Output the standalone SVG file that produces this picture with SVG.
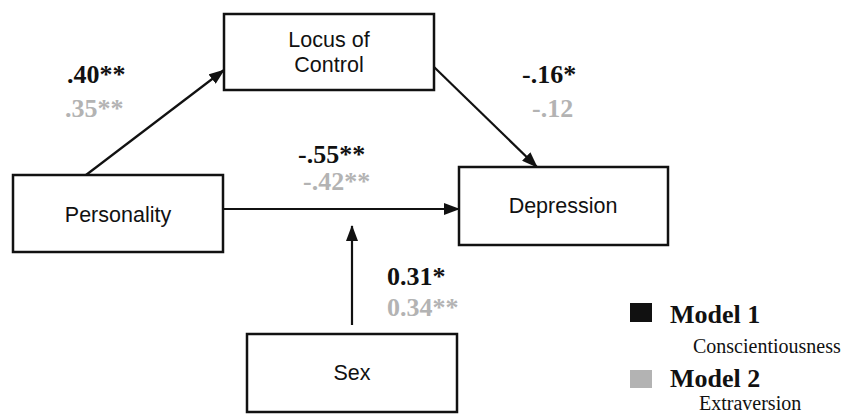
<svg xmlns="http://www.w3.org/2000/svg" width="843" height="414" viewBox="0 0 843 414">
<defs>
<style>
.box{fill:#fff;stroke:#111;stroke-width:2.5}
.lbl{font-family:"Liberation Sans",Arial,sans-serif;font-size:21.5px;fill:#111;text-anchor:middle}
.c1{font-family:"Liberation Serif","Times New Roman",serif;font-size:26px;font-weight:bold;fill:#111}
.c2{font-family:"Liberation Serif","Times New Roman",serif;font-size:26px;font-weight:bold;fill:#b3b3b3}
.edge{stroke:#111;stroke-width:2.2;fill:none}
.lg{font-family:"Liberation Serif","Times New Roman",serif;fill:#111}
</style>
<marker id="ah" markerWidth="16" markerHeight="12" refX="15" refY="6" orient="auto" markerUnits="userSpaceOnUse">
<path d="M0,0 L16,6 L0,12 z" fill="#111"/>
</marker>
</defs>
<rect width="843" height="414" fill="#fff"/>
<g id="connectors">
<line class="edge" x1="86" y1="175" x2="224" y2="70" marker-end="url(#ah)"/>
<line class="edge" x1="434" y1="67" x2="537" y2="167" marker-end="url(#ah)"/>
<line class="edge" x1="223" y1="209" x2="459" y2="209" marker-end="url(#ah)"/>
<line class="edge" x1="352" y1="325" x2="352" y2="226" marker-end="url(#ah)"/>
</g>
<g id="locus">
<rect class="box" x="224" y="14" width="210" height="76"/>
<text class="lbl" x="329" y="47">Locus of</text>
<text class="lbl" x="329" y="72">Control</text>
</g>
<g id="personality">
<rect class="box" x="13" y="175" width="210" height="77"/>
<text class="lbl" x="118" y="222">Personality</text>
</g>
<g id="depression">
<rect class="box" x="459" y="167" width="209" height="78"/>
<text class="lbl" x="563" y="213">Depression</text>
</g>
<g id="sex">
<rect class="box" x="247" y="334" width="210" height="78"/>
<text class="lbl" x="352" y="380">Sex</text>
</g>
<g id="labels">
<text class="c1" x="67" y="83">.40**</text>
<text class="c2" x="65" y="117">.35**</text>
<text class="c1" x="298" y="163">-.55**</text>
<text class="c2" x="303" y="190">-.42**</text>
<text class="c1" x="522" y="83">-.16*</text>
<text class="c2" x="532" y="117">-.12</text>
<text class="c1" x="387" y="285">0.31*</text>
<text class="c2" x="387" y="316">0.34**</text>
</g>
<g id="legend">
<rect x="630" y="303" width="22" height="19" fill="#111"/>
<text class="lg" x="670" y="323" font-size="26" font-weight="bold">Model 1</text>
<text class="lg" x="693" y="353" font-size="20">Conscientiousness</text>
<rect x="630" y="370" width="22" height="18" fill="#b3b3b3"/>
<text class="lg" x="670" y="387" font-size="26" font-weight="bold">Model 2</text>
<text class="lg" x="699" y="410" font-size="20">Extraversion</text>
</g>
</svg>
